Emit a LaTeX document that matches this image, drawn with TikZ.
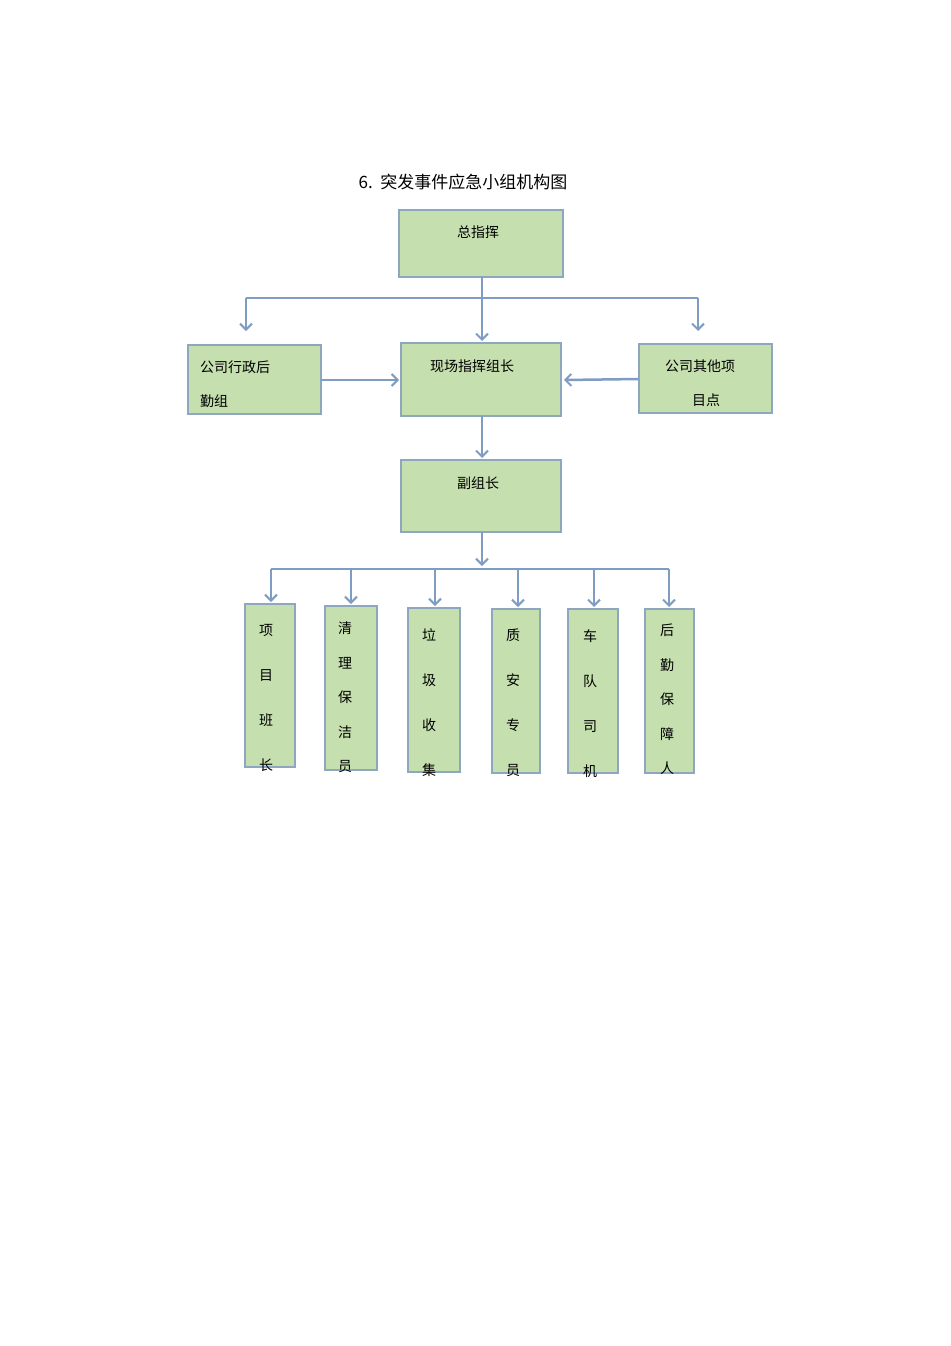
\documentclass[tikz,border=0pt]{standalone}
\usepackage{fontspec}
\setmainfont{Liberation Sans}
\newfontfamily\cjk{Noto Sans CJK SC}
\usetikzlibrary{arrows.meta}
\definecolor{boxfill}{HTML}{C5DFAF}
\definecolor{boxline}{HTML}{8DA7C0}
\definecolor{conn}{HTML}{7F9DC2}
\begin{document}
\begin{tikzpicture}[x=1pt,y=-1pt,
  box/.style={draw=boxline,line width=2pt,fill=boxfill},
  lbl/.style={font=\cjk\fontsize{14}{16}\selectfont,inner sep=0pt},
  vlbl/.style={font=\cjk\fontsize{14}{45}\selectfont,inner sep=0pt,align=center,anchor=north},
  link/.style={draw=conn,line width=2.5pt},
  arr/.style={link,-{Straight Barb[length=6pt,width=12pt,line width=2pt]}}]
\useasboundingbox (0,0) rectangle (950,1346);
\node[lbl,font=\cjk\fontsize{17}{20}\selectfont] (title) at (463,182) {6.\ \ 突发事件应急小组机构图};
% top boxes
\draw[box] (399,210) rectangle (563,277); \node[lbl] (zzh) at (478,232) {总指挥};
\draw[box] (188,345) rectangle (321,414);
\node[lbl,anchor=west] (xz1) at (200,367) {公司行政后}; \node[lbl,anchor=west] (xz2) at (200,401) {勤组};
\draw[box] (401,343) rectangle (561,416); \node[lbl] (xc) at (472,366) {现场指挥组长};
\draw[box] (639,344) rectangle (772,413);
\node[lbl] (qt1) at (700,366) {公司其他项}; \node[lbl] (qt2) at (706,400) {目点};
\draw[box] (401,460) rectangle (561,532); \node[lbl] (fz) at (478,483) {副组长};
% connectors top
\coordinate (a0) at (482,277); \coordinate (a1) at (482,298);
\coordinate (l0) at (246,298); \coordinate (r0) at (698,298);
\draw[link] (a0) -- (a1);
\draw[link] (l0) -- (r0);
\draw[arr] (a1) -- (482,341);
\draw[arr] (l0) -- (246,331);
\draw[arr] (r0) -- (698,331);
\draw[arr] (321,380) -- (399,380);
\draw[arr] (639,379) -- (564,380);
\draw[arr] (482,416) -- (482,458);
\coordinate (b0) at (482,532); \coordinate (b1) at (482,569);
\draw[arr] (b0) -- (482,566);
\draw[link] (271,569) -- (669,569);
% bottom boxes
\foreach \xa/\xb/\yt/\yb/\t/\n in {245/295/604/767/项\\目\\班\\长/p1, 325/377/606/770/清\\理\\保\\洁\\员/p2, 408/460/608/772/垃\\圾\\收\\集/p3, 492/540/609/773/质\\安\\专\\员/p4, 568/618/609/773/车\\队\\司\\机/p5, 645/694/609/773/后\\勤\\保\\障\\人/p6}{
  \draw[box] (\xa,\yt) rectangle (\xb,\yb);
}
\node[vlbl] (p1) at (266,624) {项\\目\\班\\长};
\node[vlbl,font=\cjk\fontsize{14}{34.5}\selectfont] (p2) at (345,622) {清\\理\\保\\洁\\员};
\node[vlbl] (p3) at (429,628) {垃\\圾\\收\\集};
\node[vlbl] (p4) at (513,629) {质\\安\\专\\员};
\node[vlbl] (p5) at (590,629) {车\\队\\司\\机};
\node[vlbl,font=\cjk\fontsize{14}{34.5}\selectfont] (p6) at (667,624) {后\\勤\\保\\障\\人};
\foreach \x/\y in {271/602, 351/604, 435/606, 518/607, 594/607, 669/607}{
  \draw[arr] (\x,569) -- (\x,\y);
}
\end{tikzpicture}
\end{document}
